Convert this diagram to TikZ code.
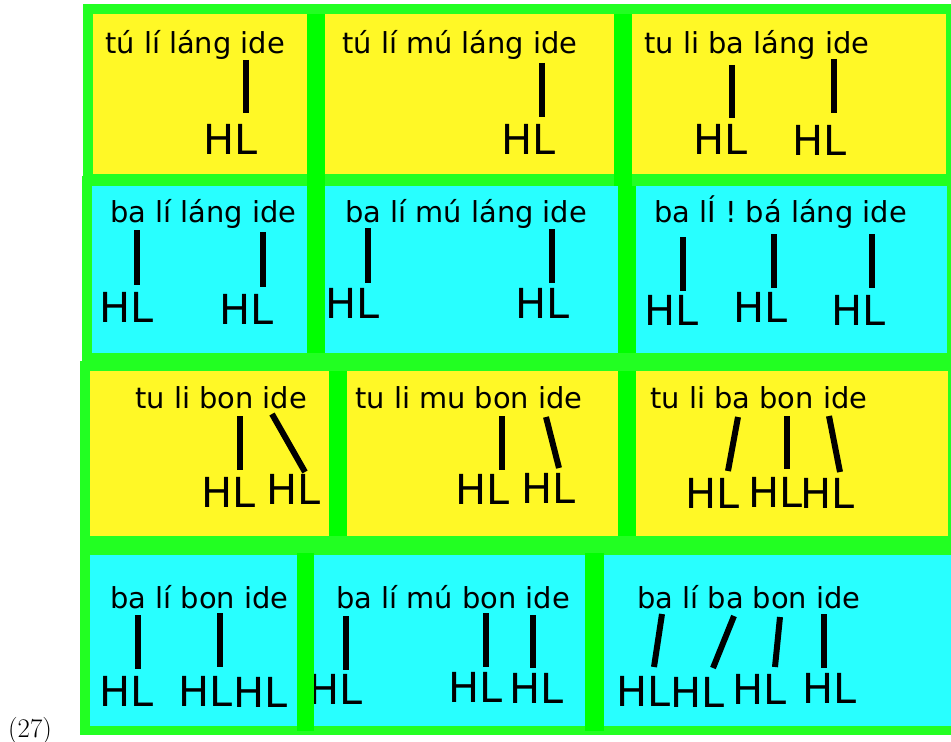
\documentclass[tikz,border=0pt]{standalone}
\usepackage{fontspec}
\usepackage{tikz}
\usetikzlibrary{positioning}
\newfontfamily\djv{DejaVu Sans}
\definecolor{frameg}{RGB}{34,255,34}
\definecolor{barg}{RGB}{0,255,0}
\definecolor{celly}{RGB}{255,248,38}
\definecolor{cellc}{RGB}{40,255,255}
\tikzset{
  rowbox/.style={fill=frameg},
  ycell/.style={fill=celly},
  ccell/.style={fill=cellc},
  divbar/.style={fill=barg},
  syl/.style={anchor=base west, inner sep=0pt, font=\djv\fontsize{29}{34}\selectfont},
  tone/.style={anchor=base west, inner sep=0pt, font=\djv\fontsize{41.5}{48}\selectfont},
  assoc/.style={line width=6bp, black},
  exnum/.style={anchor=base west, inner sep=0pt, font=\fontsize{27}{32}\selectfont},
}

\begin{document}
\begin{tikzpicture}[x=1bp,y=-1bp]
\useasboundingbox (0,0) rectangle (951,742);
% row frames and cells
\fill[rowbox] (83,4) rectangle (951,186);
\fill[rowbox] (82,176) rectangle (951,363);
\fill[rowbox] (80,361) rectangle (951,546);
\fill[rowbox] (80,545) rectangle (951,735);
\fill[ycell] (93,14) rectangle (307,174);
\fill[ycell] (325,14) rectangle (614,174);
\fill[ycell] (632,14) rectangle (946,174);
\fill[ccell] (92,186) rectangle (307,353);
\fill[ccell] (325,186) rectangle (618,353);
\fill[ccell] (636,186) rectangle (947,353);
\fill[ycell] (90,371) rectangle (329,536);
\fill[ycell] (347,371) rectangle (618,536);
\fill[ycell] (636,371) rectangle (948,536);
\fill[ccell] (90,555) rectangle (297,726);
\fill[ccell] (314,555) rectangle (585,726);
\fill[ccell] (604,555) rectangle (951,726);

% row 1
\node[syl] (t11) at (105,54) {tú lí láng ide};
\node[tone] (h11a) at (203,154) {HL};
\coordinate (top11a) at (246,60); \coordinate (bot11a) at (246,113);
\draw[assoc] (top11a) -- (bot11a);

\node[syl] (t12) at (342,54) {tú lí mú láng ide};
\node[tone] (h12a) at (501,154) {HL};
\coordinate (top12a) at (542,63); \coordinate (bot12a) at (542,117);
\draw[assoc] (top12a) -- (bot12a);

\node[syl] (t13) at (644,54) {tu li ba láng ide};
\node[tone] (h13a) at (693,154) {HL};
\node[tone] (h13b) at (792,155) {HL};
\coordinate (top13a) at (732,65); \coordinate (bot13a) at (732,118);
\coordinate (top13b) at (834,59); \coordinate (bot13b) at (834,113);
\draw[assoc] (top13a) -- (bot13a);
\draw[assoc] (top13b) -- (bot13b);

% row 2
\node[syl] (t21) at (110,222) {ba lí láng ide};
\node[tone] (h21a) at (99,322) {HL};
\node[tone] (h21b) at (219,324) {HL};
\coordinate (top21a) at (137,230); \coordinate (bot21a) at (137,285);
\coordinate (top21b) at (263,232); \coordinate (bot21b) at (263,287);
\draw[assoc] (top21a) -- (bot21a);
\draw[assoc] (top21b) -- (bot21b);

\node[syl] (t22) at (345,222) {ba lí mú láng ide};
\node[tone] (h22a) at (325,318) {HL};
\node[tone] (h22b) at (515,318) {HL};
\coordinate (top22a) at (368,228); \coordinate (bot22a) at (368,283);
\coordinate (top22b) at (552,229); \coordinate (bot22b) at (552,283);
\draw[assoc] (top22a) -- (bot22a);
\draw[assoc] (top22b) -- (bot22b);

\node[syl] (t23) at (654,222) {ba lÍ ! bá láng ide};
\node[tone] (h23a) at (644,325) {HL};
\node[tone] (h23b) at (733,322) {HL};
\node[tone] (h23c) at (831,325) {HL};
\coordinate (top23a) at (683,237); \coordinate (bot23a) at (683,291);
\coordinate (top23b) at (774,234); \coordinate (bot23b) at (774,288);
\coordinate (top23c) at (872,234); \coordinate (bot23c) at (872,288);
\draw[assoc] (top23a) -- (bot23a);
\draw[assoc] (top23b) -- (bot23b);
\draw[assoc] (top23c) -- (bot23c);

% row 3
\node[syl] (t31) at (135,408) {tu li bon ide};
\node[tone] (h31a) at (201,507) {HL};
\node[tone] (h31b) at (266,504) {HL};
\coordinate (top31a) at (240,416); \coordinate (bot31a) at (240,470);
\coordinate (top31b) at (272,414); \coordinate (bot31b) at (305,472);
\draw[assoc] (top31a) -- (bot31a);
\draw[assoc] (top31b) -- (bot31b);

\node[syl] (t32) at (355,408) {tu li mu bon ide};
\node[tone] (h32a) at (455,504) {HL};
\node[tone] (h32b) at (521,503) {HL};
\coordinate (top32a) at (502,416); \coordinate (bot32a) at (502,470);
\coordinate (top32b) at (546,417); \coordinate (bot32b) at (559,468);
\draw[assoc] (top32a) -- (bot32a);
\draw[assoc] (top32b) -- (bot32b);

\node[syl] (t33) at (650,408) {tu li ba bon ide};
\node[tone] (h33a) at (685,508) {HL};
\node[tone] (h33b) at (748,507) {HL};
\node[tone] (h33c) at (800,508) {HL};
\coordinate (top33a) at (738,417); \coordinate (bot33a) at (728,471);
\coordinate (top33b) at (787,416); \coordinate (bot33b) at (787,469);
\coordinate (top33c) at (829,416); \coordinate (bot33c) at (840,472);
\draw[assoc] (top33a) -- (bot33a);
\draw[assoc] (top33b) -- (bot33b);
\draw[assoc] (top33c) -- (bot33c);

% row 4
\node[syl] (t41) at (110,608) {ba lí bon ide};
\node[tone] (h41a) at (99,706) {HL};
\node[tone] (h41b) at (178,706) {HL};
\node[tone] (h41c) at (233,707) {HL};
\coordinate (top41a) at (138,615); \coordinate (bot41a) at (138,669);
\coordinate (top41b) at (220,613); \coordinate (bot41b) at (220,667);
\draw[assoc] (top41a) -- (bot41a);
\draw[assoc] (top41b) -- (bot41b);

\node[syl] (t42) at (336,608) {ba lí mú bon ide};
\node[tone] (h42a) at (308,704) {HL};
\node[tone] (h42b) at (448,702) {HL};
\node[tone] (h42c) at (509,703) {HL};
\coordinate (top42a) at (346,616); \coordinate (bot42a) at (346,670);
\coordinate (top42b) at (486,613); \coordinate (bot42b) at (486,667);
\coordinate (top42c) at (533,615); \coordinate (bot42c) at (533,668);
\draw[assoc] (top42a) -- (bot42a);
\draw[assoc] (top42b) -- (bot42b);
\draw[assoc] (top42c) -- (bot42c);

\node[syl] (t43) at (637,608) {ba lí ba bon ide};
\node[tone] (h43a) at (616,706) {HL};
\node[tone] (h43b) at (670,707) {HL};
\node[tone] (h43c) at (732,704) {HL};
\node[tone] (h43d) at (802,703) {HL};
\coordinate (top43a) at (662,614); \coordinate (bot43a) at (654,667);
\coordinate (top43b) at (734,616); \coordinate (bot43b) at (713,668);
\coordinate (top43c) at (780,617); \coordinate (bot43c) at (775,667);
\coordinate (top43d) at (824,614); \coordinate (bot43d) at (824,668);
\draw[assoc] (top43a) -- (bot43a);
\draw[assoc] (top43b) -- (bot43b);
\draw[assoc] (top43c) -- (bot43c);
\draw[assoc] (top43d) -- (bot43d);

% dividers between cells
\fill[divbar] (307,14) rectangle (325,186);
\fill[divbar] (614,14) rectangle (632,186);
\fill[divbar] (307,186) rectangle (325,353);
\fill[divbar] (618,186) rectangle (636,353);
\fill[divbar] (329,371) rectangle (347,536);
\fill[divbar] (618,371) rectangle (636,536);
\fill[divbar] (297,553) rectangle (314,731);
\fill[divbar] (585,553) rectangle (604,731);

\node[exnum] (ex) at (8,737) {(27)};
\end{tikzpicture}
\end{document}
